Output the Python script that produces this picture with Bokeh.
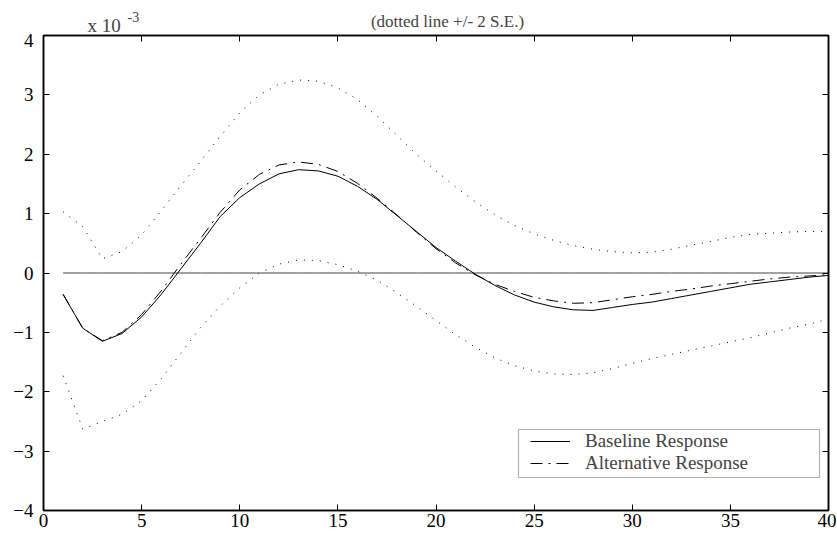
from bokeh.plotting import figure
from bokeh.layouts import column
from bokeh.models import (LinearAxis, FixedTicker, CustomJSTickFormatter, Label,
                          BoxAnnotation, Legend, LegendItem, Range1d)
from bokeh.embed import file_html
from bokeh.resources import INLINE

# ---- data (values in units of 1e-3) ----
periods = list(range(1, 41))
baseline = [-0.36, -0.93, -1.15, -1.02, -0.74, -0.36, 0.07, 0.50, 0.95, 1.27,
            1.50, 1.67, 1.74, 1.72, 1.63, 1.46, 1.24, 0.97, 0.70, 0.43,
            0.20, -0.02, -0.21, -0.37, -0.49, -0.57, -0.62, -0.63, -0.58, -0.53,
            -0.49, -0.43, -0.37, -0.31, -0.25, -0.19, -0.15, -0.11, -0.07, -0.04]
alternative = [-0.36, -0.93, -1.14, -1.00, -0.70, -0.30, 0.15, 0.58, 1.02, 1.40,
               1.66, 1.82, 1.87, 1.83, 1.71, 1.51, 1.26, 0.98, 0.69, 0.41,
               0.17, -0.03, -0.19, -0.31, -0.41, -0.47, -0.51, -0.50, -0.45, -0.40,
               -0.36, -0.31, -0.27, -0.22, -0.18, -0.14, -0.10, -0.07, -0.05, -0.03]
upper = [1.03, 0.78, 0.24, 0.36, 0.64, 1.05, 1.47, 1.88, 2.30, 2.70,
         3.00, 3.18, 3.25, 3.23, 3.12, 2.92, 2.64, 2.32, 2.00, 1.72,
         1.45, 1.20, 0.98, 0.80, 0.66, 0.55, 0.46, 0.40, 0.36, 0.34,
         0.35, 0.40, 0.47, 0.53, 0.60, 0.65, 0.67, 0.69, 0.70, 0.70]
lower = [-1.73, -2.63, -2.50, -2.38, -2.15, -1.78, -1.35, -0.92, -0.56, -0.25,
         0.00, 0.15, 0.22, 0.21, 0.14, 0.03, -0.12, -0.33, -0.56, -0.80,
         -1.04, -1.25, -1.43, -1.56, -1.65, -1.70, -1.71, -1.68, -1.61, -1.52,
         -1.44, -1.37, -1.30, -1.23, -1.16, -1.09, -1.01, -0.93, -0.86, -0.78]
zero_line = [0.0] * 40
x_ticks = [0, 5, 10, 15, 20, 25, 30, 35, 40]
y_ticks = [-4, -3, -2, -1, 0, 1, 2, 3, 4]
title_text = "(dotted line +/- 2 S.E.)"
scale_text = "x 10"
scale_exp = "-3"
labels = ["Baseline Response", "Alternative Response"]

FONT = "Liberation Serif"
W = 836
TOP_H = 33
MAIN_H = 502
BL, BR, BT, BB = 43, 8, 2, 25

# ---- header strip holding the title and the scale factor ----
head = figure(width=W, height=TOP_H, output_backend="svg", toolbar_location=None,
              x_axis_type=None, y_axis_type=None, x_range=Range1d(0, 1), y_range=Range1d(0, 1),
              min_border=0)
head.outline_line_color = None
head.xgrid.visible = False
head.ygrid.visible = False
head.add_layout(Label(x=404, y=12, x_units="screen", y_units="screen", text=title_text,
                      text_font=FONT, text_font_size="17px", text_align="center",
                      text_baseline="alphabetic"))
head.add_layout(Label(x=44, y=8, x_units="screen", y_units="screen", text=scale_text,
                      text_font=FONT, text_font_size="19px", text_align="left",
                      text_baseline="alphabetic"))
head.add_layout(Label(x=84, y=17, x_units="screen", y_units="screen", text=scale_exp,
                      text_font=FONT, text_font_size="14px", text_align="left",
                      text_baseline="alphabetic"))

# ---- main plot ----
p = figure(width=W, height=MAIN_H, output_backend="svg", toolbar_location=None,
           x_range=Range1d(0, 40), y_range=Range1d(-4, 4),
           min_border_left=BL, min_border_top=BT, min_border_right=BR, min_border_bottom=BB)
p.xgrid.visible = False
p.ygrid.visible = False
p.outline_line_color = "black"
p.outline_line_width = 1.5

for ax, ticks in ((p.xaxis[0], x_ticks), (p.yaxis[0], y_ticks)):
    ax.ticker = FixedTicker(ticks=ticks)
    ax.major_tick_in = 6
    ax.major_tick_out = 0
    ax.minor_tick_line_color = None
    ax.axis_line_width = 1.5
    ax.major_tick_line_width = 1
    ax.major_label_text_font = FONT
    ax.major_label_text_font_size = "19px"
    ax.major_label_text_color = "black"
p.xaxis[0].major_label_standoff = 3
p.yaxis[0].major_label_standoff = 10

empty = CustomJSTickFormatter(code="return ''")
for loc, ticks in (("above", x_ticks), ("right", y_ticks)):
    a = LinearAxis(ticker=FixedTicker(ticks=ticks), formatter=empty,
                   major_tick_in=6, major_tick_out=0, minor_tick_line_color=None,
                   axis_line_width=1.5, major_label_text_font_size="1px",
                   major_label_standoff=0)
    p.add_layout(a, loc)

p.line(periods, zero_line, line_color="#444444", line_width=1)
p.line(periods, upper, line_color="black", line_width=1, line_dash="1 7")
p.line(periods, lower, line_color="black", line_width=1, line_dash="1 7")
r_base = p.line(periods, baseline, line_color="black", line_width=1)
r_alt = p.line(periods, alternative, line_color="black", line_width=1, line_dash="12 6 2 6")

box = BoxAnnotation(left=475, right=776, bottom=33, top=81,
                    left_units="screen", right_units="screen",
                    top_units="screen", bottom_units="screen",
                    fill_color="white", fill_alpha=1, line_color="black", line_width=1.2)
p.add_layout(box)

legend = Legend(items=[LegendItem(label=labels[0], renderers=[r_base]),
                       LegendItem(label=labels[1], renderers=[r_alt])],
                location=(487, 36), border_line_color=None, background_fill_alpha=0,
                padding=0, margin=0, spacing=0, glyph_width=40, glyph_height=20,
                label_height=20, label_standoff=15,
                label_text_font=FONT, label_text_font_size="19px")
p.add_layout(legend, "center")

layout = column(head, p, spacing=0)
open("out.html", "w").write(file_html(layout, INLINE))
